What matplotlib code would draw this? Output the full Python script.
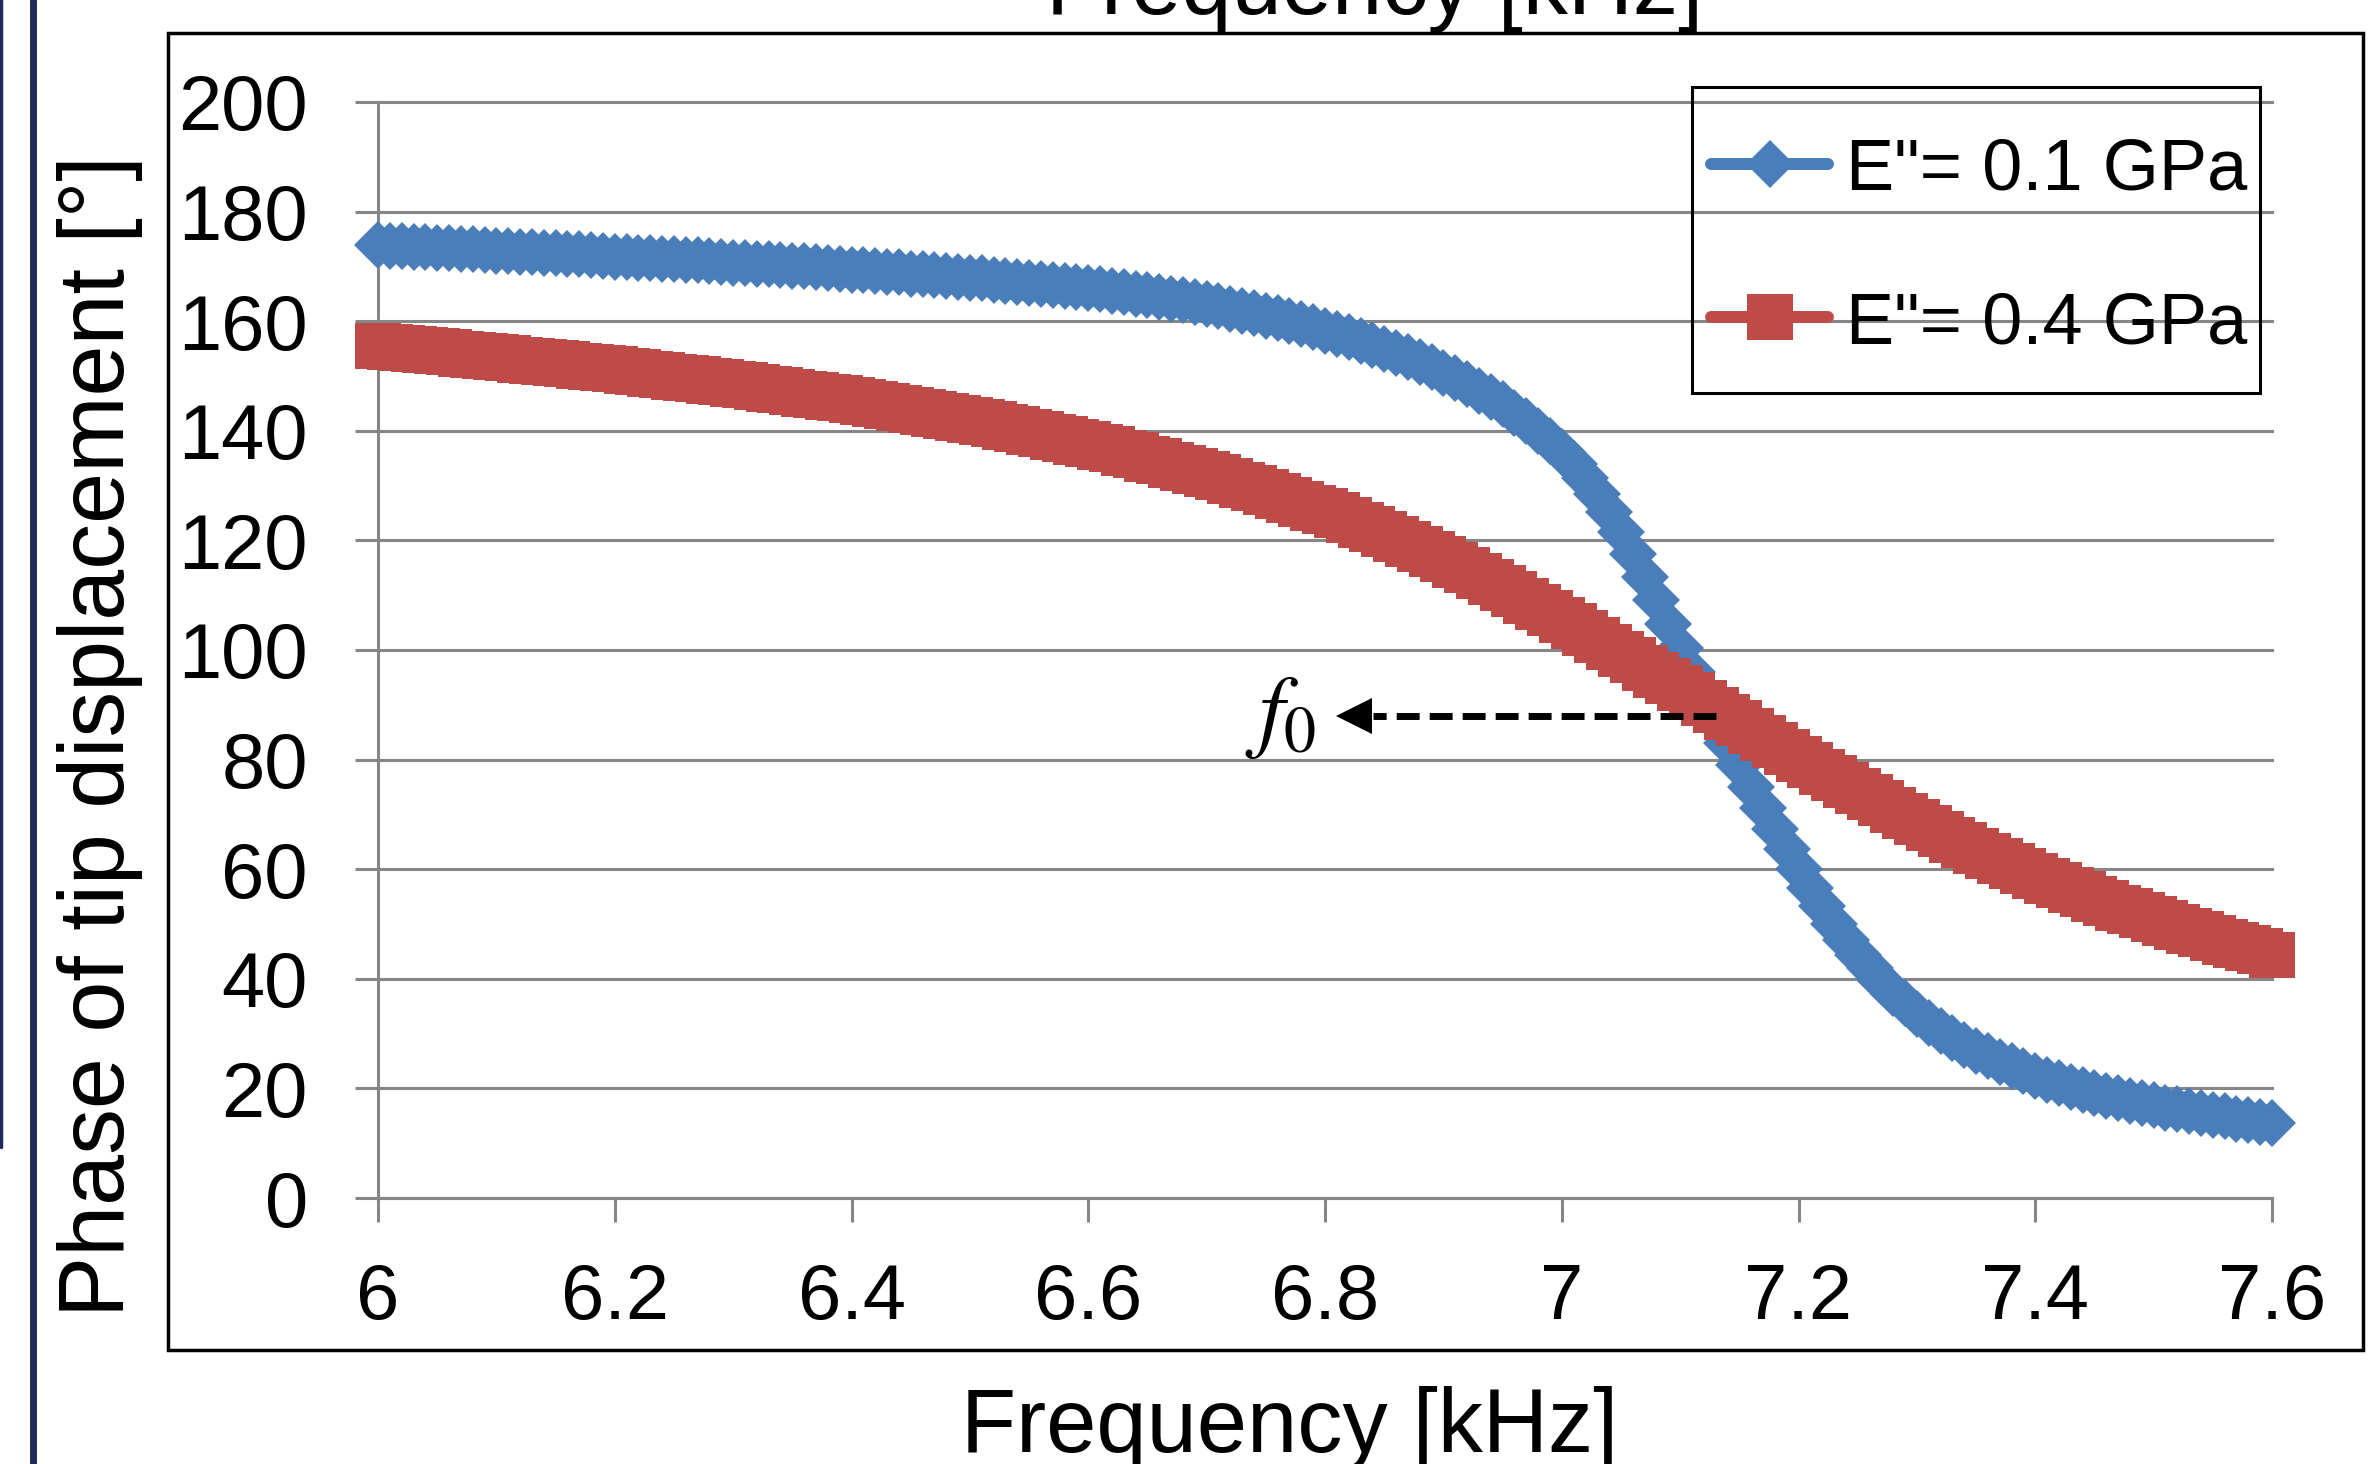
import numpy as np
import matplotlib
matplotlib.use("Agg")
import matplotlib.pyplot as plt
from matplotlib.lines import Line2D
from matplotlib.patches import Rectangle

plt.rcParams["font.family"] = ["Liberation Sans", "DejaVu Sans"]
plt.rcParams["mathtext.fontset"] = "stix"

# frequency samples [kHz], one every 0.01 kHz
freq = np.round(np.arange(6.0, 7.6001, 0.01), 2)

# phase of tip displacement [deg], E" = 0.1 GPa
phase_01 = [
    173.9, 173.8, 173.7, 173.6, 173.5, 173.4, 173.3, 173.2, 173.1, 173.0,
    172.9, 172.8, 172.7, 172.6, 172.5, 172.4, 172.3, 172.2, 172.0, 171.9,
    171.8, 171.7, 171.6, 171.5, 171.4, 171.3, 171.2, 171.1, 170.9, 170.8,
    170.7, 170.6, 170.5, 170.4, 170.2, 170.1, 170.0, 169.8, 169.7, 169.6,
    169.4, 169.3, 169.2, 169.0, 168.9, 168.7, 168.6, 168.4, 168.3, 168.1,
    167.9, 167.8, 167.6, 167.4, 167.2, 167.0, 166.8, 166.6, 166.4, 166.2,
    166.0, 165.8, 165.5, 165.3, 165.0, 164.7, 164.4, 164.1, 163.8, 163.5,
    163.1, 162.7, 162.3, 161.9, 161.5, 161.0, 160.5, 160.0, 159.4, 158.9,
    158.3, 157.7, 157.1, 156.4, 155.7, 155.0, 154.2, 153.4, 152.5, 151.6,
    150.6, 149.6, 148.5, 147.3, 146.1, 144.8, 143.3, 141.7, 140.0, 138.2,
    136.2, 133.9, 131.3, 128.4, 125.2, 121.5, 117.5, 113.4, 109.2, 104.8,
    100.4, 96.0, 91.6, 87.3, 83.1, 79.0, 75.0, 71.1, 67.3, 63.6,
    60.0, 56.5, 53.2, 50.0, 47.1, 44.4, 41.9, 39.6, 37.5, 35.5,
    33.6, 32.0, 30.5, 29.2, 28.0, 26.9, 25.9, 24.9, 24.0, 23.1,
    22.3, 21.6, 20.9, 20.3, 19.7, 19.2, 18.7, 18.2, 17.7, 17.3,
    16.9, 16.5, 16.2, 15.8, 15.5, 15.2, 14.9, 14.5, 14.2, 13.9,
    13.6,
]

# phase of tip displacement [deg], E" = 0.4 GPa
phase_04 = [
    155.5, 155.3, 155.1, 154.9, 154.7, 154.5, 154.3, 154.1, 153.9, 153.7,
    153.5, 153.3, 153.0, 152.8, 152.6, 152.4, 152.1, 151.9, 151.7, 151.4,
    151.2, 150.9, 150.7, 150.4, 150.2, 149.9, 149.6, 149.4, 149.1, 148.9,
    148.6, 148.3, 148.0, 147.7, 147.4, 147.1, 146.8, 146.5, 146.2, 145.9,
    145.6, 145.3, 144.9, 144.5, 144.2, 143.8, 143.4, 143.1, 142.7, 142.4,
    142.0, 141.6, 141.2, 140.7, 140.3, 139.8, 139.4, 138.9, 138.5, 138.0,
    137.6, 137.1, 136.6, 136.0, 135.5, 134.9, 134.4, 133.8, 133.3, 132.7,
    132.2, 131.6, 130.9, 130.2, 129.5, 128.8, 128.1, 127.4, 126.7, 126.0,
    125.4, 124.6, 123.8, 122.9, 122.0, 121.1, 120.2, 119.3, 118.4, 117.5,
    116.6, 115.6, 114.6, 113.5, 112.4, 111.3, 110.2, 109.0, 107.9, 106.7,
    105.5, 104.3, 103.1, 101.8, 100.6, 99.3, 98.1, 96.8, 95.5, 94.3,
    93.0, 91.7, 90.4, 89.1, 87.8, 86.6, 85.3, 84.0, 82.7, 81.4,
    80.2, 79.0, 77.8, 76.6, 75.4, 74.3, 73.1, 72.0, 70.8, 69.7,
    68.6, 67.5, 66.5, 65.4, 64.4, 63.4, 62.5, 61.5, 60.6, 59.7,
    58.8, 57.9, 57.1, 56.2, 55.4, 54.6, 53.8, 53.0, 52.3, 51.6,
    50.9, 50.2, 49.5, 48.8, 48.1, 47.5, 46.8, 46.2, 45.6, 45.0,
    44.4,
]

labels = ['E"= 0.1 GPa', 'E"= 0.4 GPa']
xticks = [6, 6.2, 6.4, 6.6, 6.8, 7, 7.2, 7.4, 7.6]
xticklabels = ["6", "6.2", "6.4", "6.6", "6.8", "7", "7.2", "7.4", "7.6"]
yticks = list(range(0, 201, 20))

# f0 annotation (dashed arrow pointing left)
f0_phase = 88.0
f0_x_start = 7.1306
f0_x_head = 6.8096

blue = "#4A7EBB"
red = "#BE4B48"
gray = "#868686"

W, H = 2369, 1464


def fx(px):
    return px / W


def fy(py):
    return 1 - py / H


fig = plt.figure(figsize=(W / 100, H / 100), dpi=100)
ax = fig.add_axes([fx(378), fy(1198), (2272 - 378) / W, (1198 - 102) / H])

styles = [
    dict(color=blue, marker="D", ms=24),
    dict(color=red, marker="s", ms=33),
]
series = [phase_01, phase_04]

for i, (vals, st) in enumerate(zip(series, styles)):
    ax.plot(freq, vals, lw=8.6, mew=0, solid_capstyle="round",
            clip_on=False, label=labels[i], zorder=3 + i, **st)

# f0 arrow
ax.plot([f0_x_start, f0_x_head + 0.031], [f0_phase, f0_phase], color="black",
        lw=5, dashes=(3.3, 1.45), zorder=5)
ax.plot([f0_x_head + 0.0152], [f0_phase], marker="<", ms=26, color="black",
        mew=0, zorder=5)
ax.text(6.763, f0_phase - 0.5, r"$f_0$", fontsize=66, ha="center", va="center")

ax.set_xlim(6, 7.6)
ax.set_ylim(0, 200)
ax.set_xticks(xticks)
ax.set_xticklabels(xticklabels)
ax.set_yticks(yticks)

for s in ["top", "right"]:
    ax.spines[s].set_visible(False)
for s in ["left", "bottom"]:
    ax.spines[s].set_color(gray)
    ax.spines[s].set_linewidth(2.2)

ax.yaxis.grid(True, color=gray, lw=2.2)
ax.set_axisbelow(True)
for gl in ax.get_ygridlines():
    gl.set_clip_on(False)

ax.tick_params(axis="x", length=17.3, width=2.2, color=gray, pad=29, labelsize=56)
ax.tick_params(axis="y", length=16.5, width=2.2, color=gray, pad=34, labelsize=56)

# legend: frame plus one row per series (transparent, gridlines show through)
fig.add_artist(Rectangle((fx(1692), fy(393)), (2260 - 1692) / W,
                         (393 - 87) / H, transform=fig.transFigure,
                         fill=False, ec="black", lw=2.2, zorder=6))
for i, (yc, st) in enumerate(zip([164, 317], styles)):
    fig.add_artist(Line2D([fx(1711), fx(1769.5), fx(1828)], [fy(yc)] * 3,
                          transform=fig.transFigure, lw=8.6, mew=0,
                          solid_capstyle="round", markevery=[1], zorder=6,
                          **st))
    fig.text(fx(1846), fy(yc + 26), labels[i], fontsize=52, ha="left",
             va="baseline", zorder=6)

fig.text(fx(100), fy(736), "Phase of tip displacement [°]", rotation=90,
         ha="center", va="center", fontsize=66)
fig.text(fx(1290), fy(1452), "Frequency [kHz]", ha="center",
         va="baseline", fontsize=65)
# title of the panel above, cut off by the crop
fig.text(fx(1375), fy(14), "Frequency [kHz]", ha="center",
         va="baseline", fontsize=65)

# chart area border and neighbouring panel edges
fig.add_artist(Rectangle((fx(168), fy(1350)), (2363 - 168) / W,
                         (1350 - 33) / H, transform=fig.transFigure,
                         fill=False, ec="black", lw=2.5))
fig.add_artist(Line2D([fx(33), fx(33)], [0, 1], transform=fig.transFigure,
                      color="#1F2A5E", lw=5))
fig.add_artist(Line2D([fx(1.5), fx(1.5)], [fy(1147), 1.02],
                      transform=fig.transFigure, color="#1F2A5E", lw=2.5,
                      solid_capstyle="round"))

fig.savefig("out.png", dpi=100)
